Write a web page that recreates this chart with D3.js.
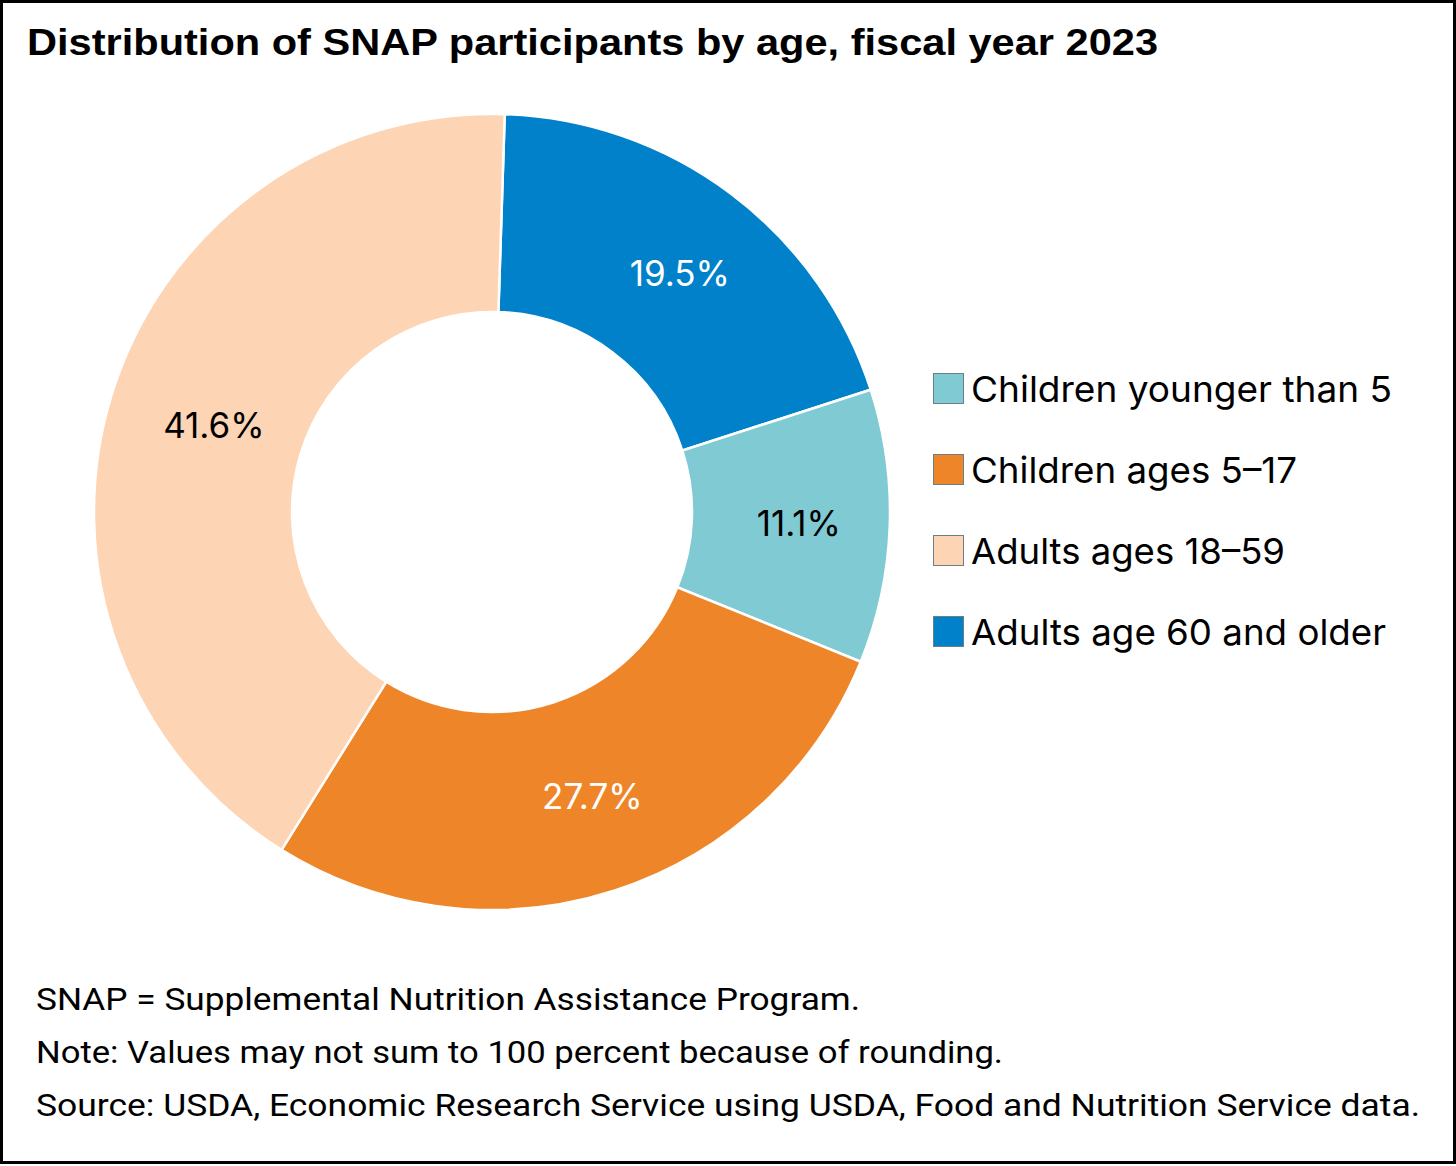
<!DOCTYPE html>
<html>
<head>
<meta charset="utf-8">
<script src="https://cdn.jsdelivr.net/npm/d3@7"></script>
<style>
  body { margin: 0; background: #fff; }
</style>
</head>
<body>
<svg width="1456" height="1166"></svg>
<script>
// data
var categories = ["Adults age 60 and older", "Children younger than 5", "Children ages 5\u201317", "Adults ages 18\u201359"];
var shares = [19.5, 11.1, 27.7, 41.6];
var sliceColors = ["#0081CA", "#80CAD3", "#EE8629", "#FDD4B4"];
var labelColors = ["#fff", "#000", "#fff", "#000"];
var legendOrder = ["Children younger than 5", "Children ages 5\u201317", "Adults ages 18\u201359", "Adults age 60 and older"];
var notes = [
    "SNAP = Supplemental Nutrition Assistance Program.",
    "Note: Values may not sum to 100 percent because of rounding.",
    "Source: USDA, Economic Research Service using USDA, Food and Nutrition Service data."
];

var svg = d3.select("svg");

// frame
svg.append("rect")
    .attr("x", 1.5).attr("y", 1.5).attr("width", 1453).attr("height", 1161)
    .attr("fill", "none").attr("stroke", "#000").attr("stroke-width", 3);

svg.append("text")
    .attr("x", 27).attr("y", 55)
    .style("font-family", "'Liberation Sans', Arial, sans-serif")
    .attr("font-size", 37).attr("font-weight", "bold")
    .attr("textLength", 1131).attr("lengthAdjust", "spacingAndGlyphs")
    .text("Distribution of SNAP participants by age, fiscal year 2023");

var data = categories.map(function(c, i) { return { name: c, value: shares[i] }; });
var color = d3.scaleOrdinal().domain(categories).range(sliceColors);

// chart starts a hair past 12 o'clock
var offset = 0.032;
var pie = d3.pie().value(d => d.value).sort(null)
    .startAngle(offset).endAngle(offset + 2 * Math.PI);
var arc = d3.arc().innerRadius(200).outerRadius(398);

var g = svg.append("g").attr("transform", "translate(492,512)");
var arcs = pie(data);

g.selectAll("path")
    .data(arcs).enter().append("path")
    .attr("d", arc)
    .attr("fill", d => color(d.data.name))
    .attr("stroke", "#fff").attr("stroke-width", 2.5);

g.selectAll("text")
    .data(arcs).enter().append("text")
    .attr("transform", d => "translate(" + arc.centroid(d) + ")")
    .attr("text-anchor", "middle").attr("dy", "0.36em").attr("dx", 8)
    .style("font-family", "Inter, 'Noto Sans', sans-serif")
    .attr("font-size", 35)
    .attr("fill", (d, i) => labelColors[i])
    .text(d => d3.format(".1f")(d.data.value) + "%");

// legend
var leg = svg.append("g").attr("transform", "translate(933,373)");
var row = leg.selectAll("g")
    .data(legendOrder).enter().append("g")
    .attr("transform", (d, i) => "translate(0," + i * 81 + ")");
row.append("rect")
    .attr("x", 0.5).attr("y", 0.5).attr("width", 30).attr("height", 30)
    .attr("fill", d => color(d))
    .attr("stroke", "#6b7f86").attr("stroke-width", 1);
var legWidths = [421, 326, 314, 415];
row.append("text")
    .attr("x", 38).attr("y", 29)
    .style("font-family", "Inter, 'Noto Sans', sans-serif")
    .attr("font-size", 36)
    .attr("textLength", (d, i) => legWidths[i])
    .attr("lengthAdjust", "spacingAndGlyphs")
    .text(d => d);

// notes, squeezed to the condensed width of the original
var noteWidths = [824, 967, 1384];
svg.selectAll(".note")
    .data(notes).enter().append("text")
    .attr("class", "note")
    .attr("x", 36).attr("y", (d, i) => 1010 + i * 53)
    .style("font-family", "Roboto, sans-serif")
    .attr("font-size", 32)
    .attr("textLength", (d, i) => noteWidths[i])
    .attr("lengthAdjust", "spacingAndGlyphs")
    .text(d => d);
</script>
</body>
</html>
